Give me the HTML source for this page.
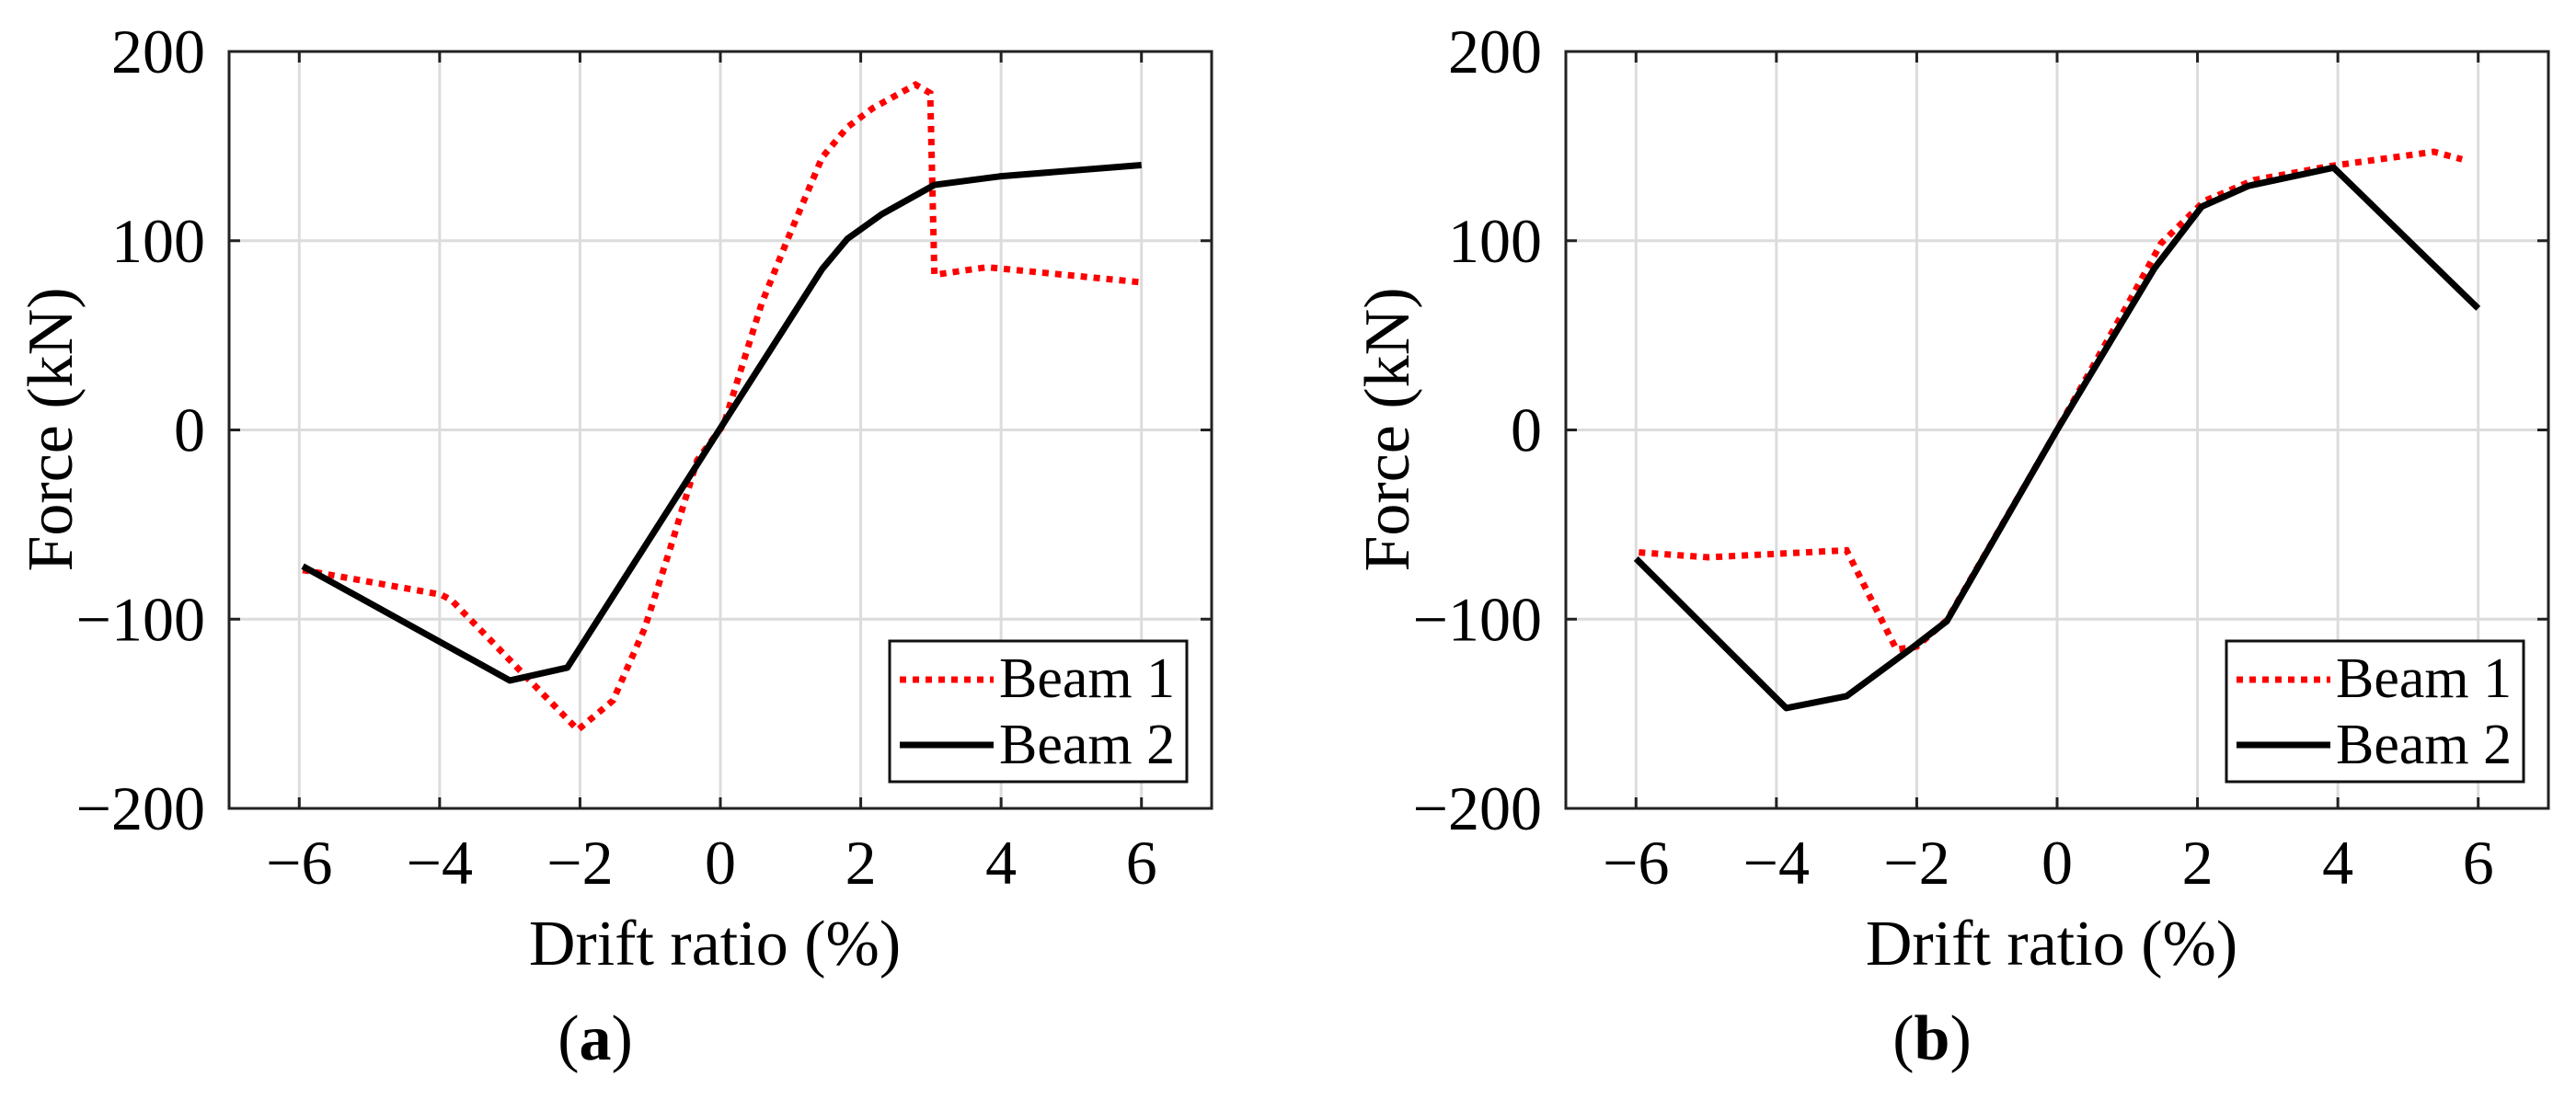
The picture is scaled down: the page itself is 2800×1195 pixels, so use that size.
<!DOCTYPE html>
<html><head><meta charset="utf-8">
<style>
html,body{margin:0;padding:0;background:#fff;}
svg text{font-family:"Liberation Serif",serif;fill:#000;}
</style></head>
<body>
<svg id="fig" width="2800" height="1190" viewBox="0 0 2800 1190" xmlns="http://www.w3.org/2000/svg"></svg>
<script>
const xTicks = [-6,-4,-2,0,2,4,6];
const yTicks = [-200,-100,0,100,200];
const yTickLabels = ["\u2212200","\u2212100","0","100","200"];
const xTickLabels = ["\u22126","\u22124","\u22122","0","2","4","6"];
const seriesNames = ["Beam 1","Beam 2"];

const aBeam1X = [-5.95,-3.98,-3.83,-2.03,-1.53,-1.08,-0.73,-0.33,0.05,0.59,0.95,1.45,1.81,2.17,2.78,2.99,3.05,3.8,6.0];
const aBeam1Y = [-74,-87,-90,-158.5,-143,-105,-64.5,-16,3,67,100,144,160,170,182.5,178,82,86,78];
const aBeam2X = [-5.95,-3.0,-2.18,1.45,1.81,2.3,3.05,3.98,6.0];
const aBeam2Y = [-72,-132.4,-125.6,85,101,114,129.5,134,140];

const bBeam1X = [-5.96,-4.97,-3.0,-2.29,-2.0,-1.57,0,1.0,1.48,2.1,2.8,3.9,5.37,5.77];
const bBeam1Y = [-64.7,-67.3,-63.6,-116,-114.5,-100.5,0,66,98.6,121,132,139.5,147,143];
const bBeam2X = [-6.0,-3.86,-3.0,-2.06,-1.57,0,1.39,2.06,2.73,3.94,6.0];
const bBeam2Y = [-68,-147,-140.7,-115,-101,0,85.6,118,129,138.6,64.2];

const NS = "http://www.w3.org/2000/svg";
const svg = document.getElementById('fig');
function el(tag, attrs, parent){
  const e = document.createElementNS(NS, tag);
  for (const k in attrs) e.setAttribute(k, attrs[k]);
  (parent||svg).appendChild(e);
  return e;
}

function drawPanel(ox, tag, s1x, s1y, s2x, s2y){
  const L = 249+ox, R = 1317+ox, T = 56, B = 879;
  const xs = v => L + (v + 7) / 14 * (R - L);
  const ys = v => B - (v + 200) / 400 * (B - T);
  const g = el('g', {});
  
  
  const grid = el('g', {}, g);
  
  
  xTicks.forEach(v => {
    el('line', {x1:xs(v), x2:xs(v), y1:T, y2:B, stroke:'#dcdcdc', 'stroke-width':3}, grid);
  });
  yTicks.forEach(v => {
    el('line', {x1:L, x2:R, y1:ys(v), y2:ys(v), stroke:'#dcdcdc', 'stroke-width':3}, grid);
  });
  const p1 = s1x.map((x,i)=>xs(x)+','+ys(s1y[i])).join(' ');
  const l1 = el('polyline', {points:p1, fill:'none', stroke:'#ff0000', 'stroke-width':7, 'stroke-dasharray':'7 7'}, g);
  
  
  const p2 = s2x.map((x,i)=>xs(x)+','+ys(s2y[i])).join(' ');
  const l2 = el('polyline', {points:p2, fill:'none', stroke:'#000', 'stroke-width':7, 'stroke-linejoin':'round'}, g);
  
  
  const box = el('rect', {x:L, y:T, width:R-L, height:B-T, fill:'none', stroke:'#222', 'stroke-width':3}, g);
  
  
  xTicks.forEach((v,i) => {
    el('line', {x1:xs(v), x2:xs(v), y1:B, y2:B-12, stroke:'#222', 'stroke-width':3}, g);
    el('line', {x1:xs(v), x2:xs(v), y1:T, y2:T+12, stroke:'#222', 'stroke-width':3}, g);
    const t = el('text', {x:xs(v), y:961, 'font-size':68, 'text-anchor':'middle'}, g);
    t.textContent = xTickLabels[i];
    
    
  });
  yTicks.forEach((v,i) => {
    el('line', {x1:L, x2:L+12, y1:ys(v), y2:ys(v), stroke:'#222', 'stroke-width':3}, g);
    el('line', {x1:R, x2:R-12, y1:ys(v), y2:ys(v), stroke:'#222', 'stroke-width':3}, g);
    const t = el('text', {x:L-26, y:ys(v)+23, 'font-size':68, 'text-anchor':'end'}, g);
    t.textContent = yTickLabels[i];
    
    
  });
  const xt = el('text', {x:(L+R)/2 - 6, y:1049, 'font-size':70, 'text-anchor':'middle'}, g);
  xt.textContent = 'Drift ratio (%)';
  
  
  const yt = el('text', {x:0, y:0, 'font-size':70, 'text-anchor':'middle', transform:'translate('+(78+ox)+',467) rotate(-90)'}, g);
  yt.textContent = 'Force (kN)';
  
  
  const lg = el('g', {}, g);
  
  
  el('rect', {x:967+ox, y:697, width:323, height:153, fill:'#fff', stroke:'#111', 'stroke-width':3}, lg);
  el('line', {x1:978+ox, x2:1080+ox, y1:739, y2:739, stroke:'#ff0000', 'stroke-width':7, 'stroke-dasharray':'7 7'}, lg);
  el('line', {x1:978+ox, x2:1080+ox, y1:810, y2:810, stroke:'#000', 'stroke-width':7}, lg);
  const e1 = el('text', {x:1086+ox, y:758, 'font-size':62}, lg);
  e1.textContent = seriesNames[0];
  
  
  const e2 = el('text', {x:1086+ox, y:830, 'font-size':62}, lg);
  e2.textContent = seriesNames[1];
  
  
  const c = el('text', {x:(L+R)/2 - 136, y:1152, 'font-size':70, 'text-anchor':'middle'}, g);
  
  
  const s1 = el('tspan', {}, c); s1.textContent = '(';
  const s2 = el('tspan', {'font-weight':'bold'}, c); s2.textContent = tag;
  const s3 = el('tspan', {}, c); s3.textContent = ')';
}

drawPanel(0, 'a', aBeam1X, aBeam1Y, aBeam2X, aBeam2Y);
drawPanel(1453, 'b', bBeam1X, bBeam1Y, bBeam2X, bBeam2Y);
</script>
</body></html>
